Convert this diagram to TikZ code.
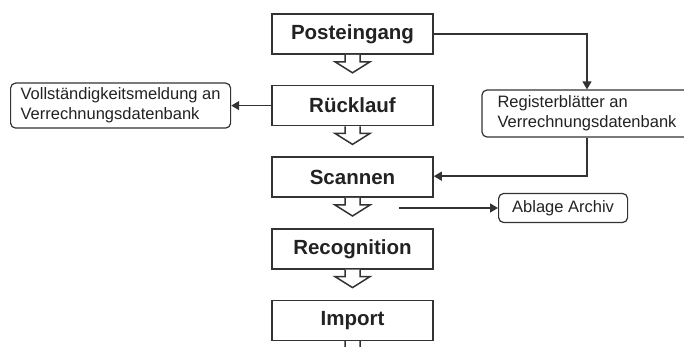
\documentclass[tikz,border=0pt]{standalone}
\usepackage{fontspec}
\setmainfont{Liberation Sans}
\usetikzlibrary{positioning}
\usetikzlibrary{arrows.meta}
\definecolor{linegray}{HTML}{333333}
\definecolor{textgray}{HTML}{222222}

\begin{document}
\begin{tikzpicture}[
 x=1pt, y=1pt,
 node distance=30pt,
 stage/.style={rectangle, draw=linegray, line width=1.6pt, fill=white, minimum width=161pt, minimum height=40pt, text=textgray, font=\bfseries\fontsize{20.5}{24}\selectfont},
 note/.style={rectangle, rounded corners=5pt, draw=linegray, line width=1.2pt, fill=white, text=textgray, align=left, inner xsep=8pt, font=\fontsize{16.5}{20}\selectfont},
 hollow/.style={draw=linegray, line width=1.5pt, fill=white, line join=miter},
 arrow/.style={-{Triangle[length=8pt, width=9pt]}, draw=linegray, line width=1.4pt}
]
\useasboundingbox (0,0) rectangle (684,347);

% Main stages
\node[stage] (post) at (352.5,313) {Posteingang};
\node[stage, below=of post] (rueck) {Rücklauf};
\node[stage, below=of rueck] (scan) {Scannen};
\node[stage, below=of scan] (recog) {Recognition};
\node[stage, below=of recog] (imp) {Import};

% Hollow arrows below the stages
\foreach \b in {post,rueck,scan,recog,imp} {
 \draw[hollow] ([xshift=-7.5pt]\b.south) -- ++(0,-7) -- ++(-10,0) -- ++(17.5,-11)
  -- ++(17.5,11) -- ++(-10,0) -- ++(0,7);
}

% Side notes
\node[note, minimum width=220pt, minimum height=45pt, left=40pt of rueck] (voll)
 {Vollständigkeitsmeldung an\\Verrechnungsdatenbank};
\node[note, minimum width=210pt, minimum height=47pt] (reg) at (587,233.5)
 {Registerblätter an\\Verrechnungsdatenbank};
\coordinate (archfrom) at (399,139);
\node[note, minimum width=129pt, minimum height=29pt, right=99pt of archfrom] (arch)
 {Ablage Archiv};

% Connectors
\draw[arrow] (rueck.west) -- (voll.east);
\draw[arrow] (post.east) -| (reg.north);
\draw[arrow] (reg.south) |- ([yshift=1pt]scan.east);
\draw[arrow] (archfrom) -- (arch.west);
\end{tikzpicture}
\end{document}
